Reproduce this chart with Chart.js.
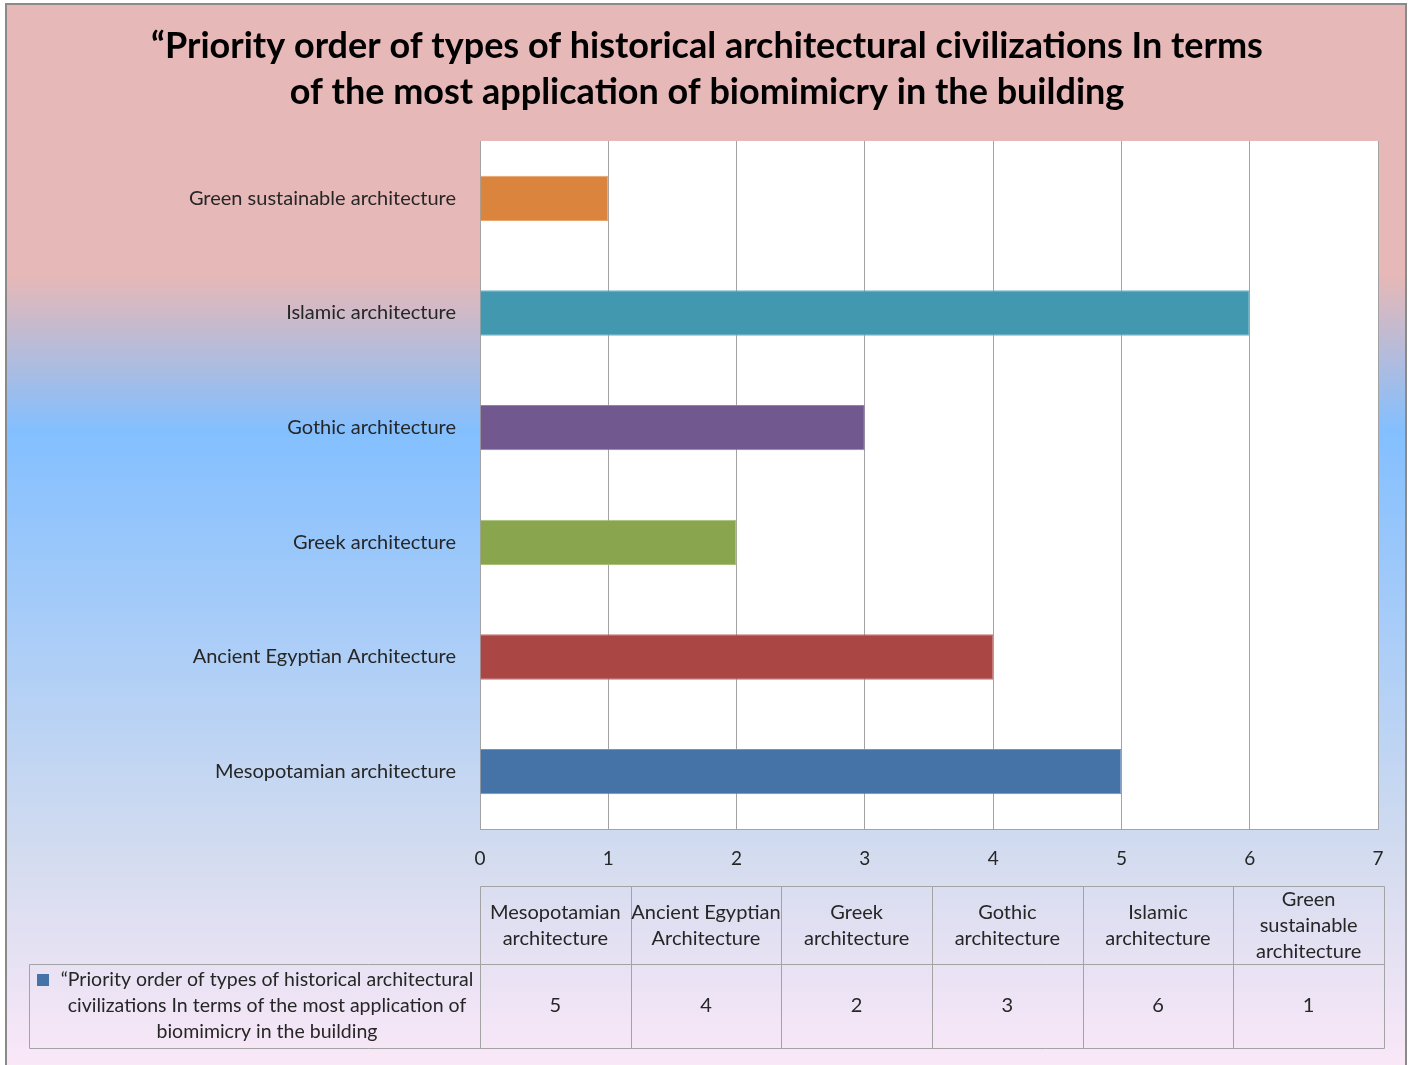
<!DOCTYPE html>
<html><head><meta charset="utf-8">
<script src="https://cdn.jsdelivr.net/npm/chart.js@4.4.0/dist/chart.umd.min.js"></script>
<style>html,body{margin:0;padding:0;background:#fff;overflow:hidden}#wrap{width:1411px;height:1065px;position:relative}canvas{display:block}</style>
</head><body><div id="wrap"><canvas id="c" width="1411" height="1065" style="width:1411px;height:1065px"></canvas></div>
<script>
const categories = ['Mesopotamian architecture','Ancient Egyptian Architecture','Greek architecture','Gothic architecture','Islamic architecture','Green sustainable architecture'];
const tableHeaders = [['Mesopotamian','architecture'],['Ancient Egyptian','Architecture'],['Greek','architecture'],['Gothic','architecture'],['Islamic','architecture'],['Green','sustainable','architecture']];
const seriesName = '“Priority order of types of historical architectural civilizations In terms of the most application of biomimicry in the building';
const seriesNameLines = ['“Priority order of types of historical architectural','civilizations In terms of the most application of','biomimicry in the building'];
const values = [5,4,2,3,6,1];
const barColors = ['#4572A7','#AA4643','#89A54E','#71588F','#4198AF','#DB843D'];
const barBorders = ['#7391c2','#c27370','#a7c07a','#9482ab','#73b4c8','#e8a46c'];
const xTickMax = 7;
const titleLines = ['“Priority order of types of historical architectural civilizations In terms','of the most application of biomimicry in the building'];

const FONT = 'Lato, "Open Sans", sans-serif';
const TXT = '#262626';
const LINE = '#a3a3a3';

const bgPlugin = {
  id: 'bg',
  beforeDraw(chart) {
    const ctx = chart.ctx, W = chart.width, H = chart.height;
    ctx.save();
    ctx.fillStyle = '#ffffff';
    ctx.fillRect(0, 0, W, H);
    const top = 4, bot = 1072;
    const g = ctx.createLinearGradient(0, top, 0, bot);
    g.addColorStop(0, '#e6b8b7');
    g.addColorStop(0.255, '#e6b8b7');
    g.addColorStop(0.40, '#83bfff');
    g.addColorStop(0.80, '#d4dcef');
    g.addColorStop(1, '#fbe8f8');
    ctx.fillStyle = g;
    ctx.fillRect(6, top, 1400, bot - top);
    ctx.strokeStyle = '#8a8a8a';
    ctx.lineWidth = 2;
    ctx.strokeRect(6, top, 1400, bot - top);
    const a = chart.chartArea;
    ctx.fillStyle = '#ffffff';
    ctx.fillRect(a.left, a.top, a.right - a.left, a.bottom - a.top);
    ctx.restore();
  }
};

const tablePlugin = {
  id: 'dataTable',
  afterDraw(chart) {
    const ctx = chart.ctx, a = chart.chartArea;
    const left = a.left, right = a.right + 6;
    const colW = (right - left) / categories.length;
    const hTop = a.bottom + 57, dTop = a.bottom + 135, bot = a.bottom + 219;
    const legLeft = 29;
    ctx.save();
    ctx.strokeStyle = LINE;
    ctx.lineWidth = 1;
    ctx.beginPath();
    ctx.moveTo(left + 0.5, hTop + 0.5); ctx.lineTo(right + 0.5, hTop + 0.5);
    ctx.moveTo(legLeft + 0.5, dTop + 0.5); ctx.lineTo(right + 0.5, dTop + 0.5);
    ctx.moveTo(legLeft + 0.5, bot + 0.5); ctx.lineTo(right + 0.5, bot + 0.5);
    ctx.moveTo(legLeft + 0.5, dTop + 0.5); ctx.lineTo(legLeft + 0.5, bot + 0.5);
    for (let i = 0; i <= categories.length; i++) {
      const x = Math.round(left + i * colW) + 0.5;
      ctx.moveTo(x, hTop + 0.5); ctx.lineTo(x, bot + 0.5);
    }
    ctx.stroke();
    ctx.fillStyle = TXT;
    ctx.font = '20px ' + FONT;
    ctx.textAlign = 'center';
    ctx.textBaseline = 'middle';
    const lh = 26;
    tableHeaders.forEach((lines, i) => {
      const cx = left + (i + 0.5) * colW;
      const cy = (hTop + dTop) / 2 + 1;
      const y0 = cy - (lines.length - 1) * lh / 2;
      lines.forEach((t, j) => ctx.fillText(t, cx, y0 + j * lh));
    });
    values.forEach((v, i) => {
      const cx = left + (i + 0.5) * colW;
      ctx.fillText(String(v), cx, (dTop + bot) / 2);
    });
    ctx.font = '19.5px ' + FONT;
    const lcx = 267, lcy = (dTop + bot) / 2;
    const ly0 = lcy - (seriesNameLines.length - 1) * lh / 2;
    seriesNameLines.forEach((t, j) => ctx.fillText(t, lcx, ly0 + j * lh));
    ctx.fillStyle = barColors[0];
    ctx.fillRect(37, ly0 - 6, 12, 12);
    ctx.restore();
  }
};

new Chart(document.getElementById('c'), {
  type: 'bar',
  data: {
    labels: categories,
    datasets: [{
      label: seriesName,
      data: values,
      backgroundColor: barColors,
      borderColor: barBorders,
      borderWidth: 1,
      categoryPercentage: 1,
      barPercentage: 0.395
    }]
  },
  options: {
    indexAxis: 'y',
    responsive: false,
    maintainAspectRatio: false,
    animation: false,
    devicePixelRatio: 1,
    layout: { padding: { top: 0, right: 33, bottom: 186, left: 36 } },
    plugins: {
      legend: { display: false },
      tooltip: { enabled: false },
      title: {
        display: true,
        text: titleLines,
        color: '#000000',
        font: { family: FONT, size: 36, weight: 'bold', lineHeight: 46 / 36 },
        padding: { top: 23, bottom: 26 }
      }
    },
    scales: {
      x: {
        type: 'linear',
        min: 0, max: xTickMax,
        ticks: { stepSize: 1, color: TXT, font: { family: FONT, size: 19 }, padding: 18 },
        grid: { color: LINE, drawTicks: false, lineWidth: 1 },
        border: { display: true, color: LINE },
        afterFit(s) { s.height = 50; }
      },
      y: {
        reverse: true,
        ticks: { color: TXT, font: { family: FONT, size: 20 }, padding: 24 },
        grid: { display: false, drawTicks: false },
        border: { display: true, color: LINE },
        afterFit(s) { s.width = 444; }
      }
    }
  },
  plugins: [bgPlugin, tablePlugin]
});
</script>
</body></html>
